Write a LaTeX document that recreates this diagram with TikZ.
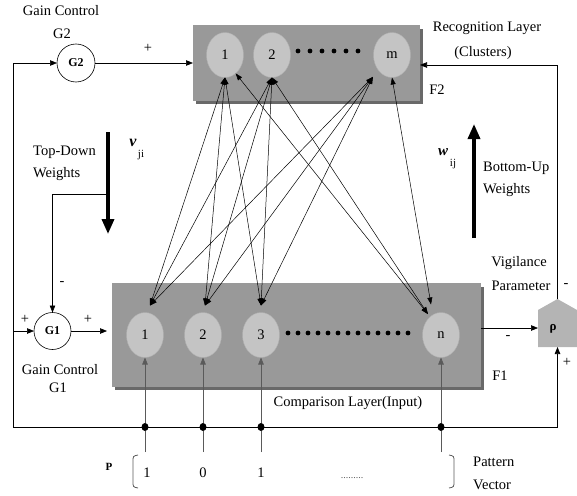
\documentclass[tikz,border=0pt]{standalone}
\usepackage{fontspec}
\setmainfont{Liberation Serif}
\usetikzlibrary{arrows.meta,shapes.geometric,calc}
\definecolor{boxgray}{RGB}{153,153,153}
\definecolor{shadowgray}{RGB}{105,105,105}
\definecolor{neurongray}{RGB}{196,196,196}
\definecolor{neuronedge}{RGB}{175,175,175}
\definecolor{rhogray}{RGB}{180,180,180}
\definecolor{inputgray}{RGB}{90,90,90}
\begin{document}
\begin{tikzpicture}[x=1pt,y=-1pt,
  font=\fontsize{14.5}{16}\selectfont,
  tip/.style={-{Triangle[length=7pt,width=5.5pt]}, line width=0.7pt},
  both/.style={{Triangle[length=7pt,width=5pt]}-{Triangle[length=7pt,width=5pt]}, line width=0.5pt},
  bigarrow/.style={-{Triangle[length=15pt,width=12pt]}, line width=3.4pt},
  neuron/.style={ellipse, draw=neuronedge, fill=neurongray, minimum width=37pt, minimum height=45pt, inner sep=0pt, outer sep=0pt},
  layer/.style={rectangle, fill=boxgray, inner sep=0pt, outer sep=0pt},
  gain/.style={circle, draw, line width=0.6pt, fill=white, minimum size=38pt, inner sep=0pt, outer sep=0pt, font=\bfseries\fontsize{12}{12}\selectfont},
  junction/.style={ellipse, fill=black, minimum width=7pt, minimum height=8pt, inner sep=0pt},
  lbl/.style={inner sep=0pt},
  bracket/.style={draw=inputgray, line width=0.8pt}
]
\useasboundingbox (0,0) rectangle (577,495);

% ---------------- layers ----------------
\fill[shadowgray] (196,29) rectangle (423,104);
\node[layer, minimum width=227pt, minimum height=76pt] (F2box) at (306.5,63) {};
\fill[shadowgray] (115,287) rectangle (484,390);
\node[layer, minimum width=369pt, minimum height=104pt] (F1box) at (296.5,335) {};

% F2 neurons
\node[neuron] (f2a) at (225,55) {1};
\node[neuron] (f2b) at (272,55) {2};
\node[neuron] (f2m) at (392,55) {m};
\foreach \i in {0,...,5} \fill (298+12*\i,51) circle (2.4pt);

% F1 neurons
\node[neuron] (f1a) at (145,335) {1};
\node[neuron] (f1b) at (203,335) {2};
\node[neuron] (f1c) at (261,335) {3};
\node[neuron] (f1n) at (441,335) {n};
\foreach \i in {0,...,12} \fill (288+10*\i,333) circle (2.4pt);

% ---------------- weights between layers ----------------
\draw[both] (f2a.south) -- ([xshift=5pt,yshift=7pt]f1a.north);
\draw[both] (f2a.south) -- ([xshift=2pt,yshift=7pt]f1b.north);
\draw[both] (f2a.south) -- ([yshift=7pt]f1c.north);
\draw[both] (f2a.300) -- ([yshift=5pt]f1n.north west);
\draw[both] (f2b.south) -- ([xshift=5pt,yshift=7pt]f1a.north);
\draw[both] (f2b.south) -- ([xshift=2pt,yshift=7pt]f1b.north);
\draw[both] (f2b.south) -- ([yshift=7pt]f1c.north);
\draw[both] (f2b.south) -- ([yshift=5pt]f1n.north west);
\draw[both] ([xshift=-6pt,yshift=-6pt]f2m.south west) -- ([xshift=5pt,yshift=7pt]f1a.north);
\draw[both] ([xshift=-6pt,yshift=-6pt]f2m.south west) -- ([xshift=2pt,yshift=7pt]f1b.north);
\draw[both] ([xshift=-6pt,yshift=-6pt]f2m.south west) -- ([yshift=7pt]f1c.north);
\draw[both] (f2m.south) -- ([xshift=-10pt,yshift=8pt]f1n.north);

% ---------------- gain controls ----------------
\node[gain] (G2) at (76,63) {G2};
\node[gain, minimum size=37pt] (G1) at (52.5,331) {G1};

% vigilance node
\node[inner sep=0pt, outer sep=0pt, minimum width=39pt, minimum height=48pt] (rho) at (557.5,323) {};
\fill[rhogray] (rho.south west) -- ($(rho.north west)+(0,11)$) -- (rho.north) -- ($(rho.north east)+(0,11)$) -- (rho.south east) -- cycle;
\node[lbl, font=\bfseries\fontsize{13}{13}\selectfont] at (553,329) {ρ};

% ---------------- loops ----------------
\coordinate (bl) at (13,427);
\coordinate (br) at (557.5,427);
\draw[line width=0.7pt] (bl) -- (br);
\draw[tip] (bl) |- (G2.west);
\draw[tip] (G2.east) -- (F2box.west);
\draw[tip] (G1.west -| bl) -- (G1.west);
\draw[tip, shorten >=5pt] (G1.east) -- (G1.east -| F1box.west);
\draw[tip] (br) -- (rho.south);
\draw[tip] (rho.north) |- ([yshift=-2pt]F2box.east);
\draw[tip] (F1box.east |- 0,328) -- (rho.west |- 0,328);

% top-down / bottom-up arrows
\coordinate (td1) at (108,132);
\coordinate (td2) at (108,234);
\coordinate (tdb) at (108,194);
\draw[bigarrow] (td1) -- (td2);
\draw[tip] (tdb) -| (G1.north);
\coordinate (bu1) at (474,238);
\coordinate (bu2) at (474,124);
\draw[bigarrow] (bu1) -- (bu2);

% ---------------- inputs ----------------
\foreach \n/\x in {a/145,b/203,c/261,n/441}{
  \node[junction] (j\n) at (\x,427) {};
  \coordinate (p\n) at (\x,452);
  \draw[inputgray, line width=0.8pt] (p\n) -- (j\n);
  \draw[tip, draw=inputgray] (j\n) -- (f1\n.south);
}

% ---------------- labels ----------------
\node[lbl] at (61,11) {Gain Control};
\node[lbl] at (62,34) {G2};
\node[lbl] at (148,48) {+};
\node[lbl] at (487,28) {Recognition Layer};
\node[lbl] at (483,53) {(Clusters)};
\node[lbl] at (437,90) {F2};
\node[lbl, anchor=west] at (33,152) {Top-Down};
\node[lbl, anchor=west] at (33,174) {Weights};
\node[lbl, font=\bfseries\itshape\fontsize{16}{16}\selectfont] at (133,143) {v};
\node[lbl, font=\fontsize{11}{11}\selectfont] at (141,155) {ji};
\node[lbl, font=\bfseries\itshape\fontsize{15}{15}\selectfont] at (443,152) {w};
\node[lbl, font=\fontsize{11}{11}\selectfont] at (453,164) {ij};
\node[lbl, anchor=west] at (483,168) {Bottom-Up};
\node[lbl, anchor=west] at (483,190) {Weights};
\node[lbl] at (519,263) {Vigilance};
\node[lbl] at (521,286) {Parameter};
\node[lbl] at (566,286) {-};
\node[lbl] at (62,284) {-};
\node[lbl] at (25,319) {+};
\node[lbl] at (88,319) {+};
\node[lbl] at (60,370) {Gain Control};
\node[lbl] at (58,388) {G1};
\node[lbl] at (508,338) {-};
\node[lbl] at (567,362) {+};
\node[lbl] at (500,376) {F1};
\node[lbl] at (348,403) {Comparison Layer(Input)};

% pattern vector
\node[lbl, font=\bfseries\fontsize{11}{11}\selectfont] at (109,467) {P};
\draw[bracket] (138,455) .. controls (133,456) .. (133,462) -- (133,481) .. controls (133,487) .. (138,488);
\draw[bracket] (449,455) .. controls (454,456) .. (454,462) -- (454,481) .. controls (454,487) .. (449,488);
\node[lbl] at (147,473) {1};
\node[lbl] at (203,473) {0};
\node[lbl] at (261,473) {1};
\node[lbl, text=inputgray, font=\fontsize{10}{10}\selectfont] at (352,478) {.........};
\node[lbl, anchor=west] at (473,462) {Pattern};
\node[lbl, anchor=west] at (473,485) {Vector};
\end{tikzpicture}
\end{document}
